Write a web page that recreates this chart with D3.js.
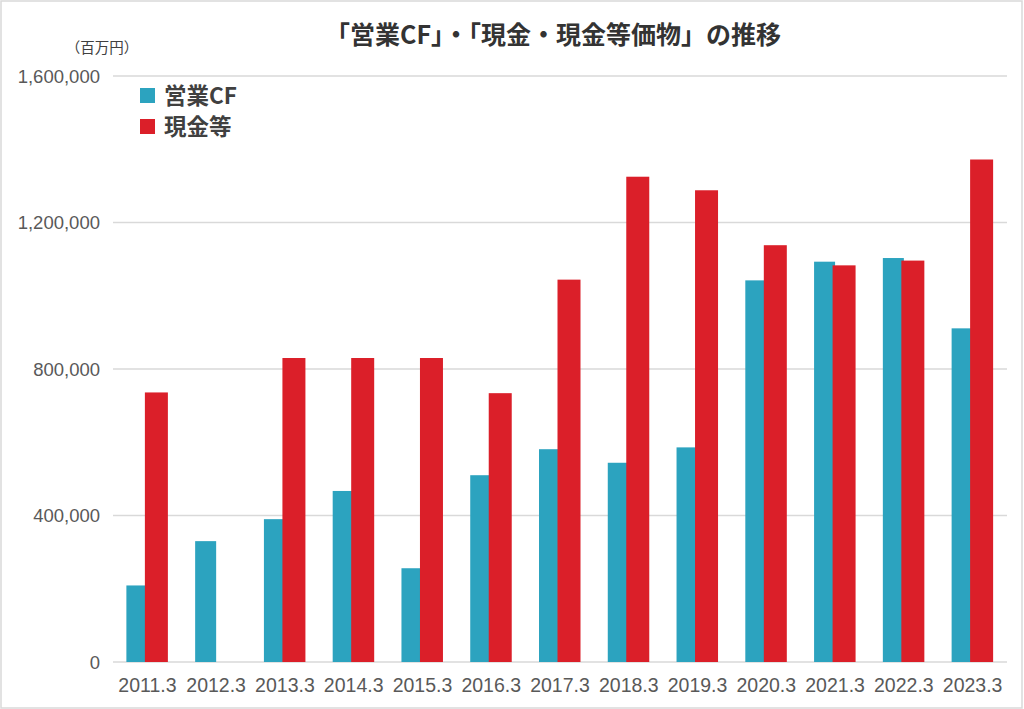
<!DOCTYPE html>
<html>
<head>
<meta charset="utf-8">
<script src="https://cdn.jsdelivr.net/npm/d3@7"></script>
<style>
  html, body { margin: 0; padding: 0; background: #fff; }
  svg { display: block; }
</style>
</head>
<body>
<script>
const categories = ["2011.3","2012.3","2013.3","2014.3","2015.3","2016.3","2017.3","2018.3","2019.3","2020.3","2021.3","2022.3","2023.3"];
const operatingCF = [209000, 330000, 390000, 467000, 256000, 510000, 581000, 544000, 586000, 1042000, 1093000, 1103000, 911000];
const cashEq = [736000, null, 830000, 830000, 830000, 734000, 1044000, 1325000, 1288000, 1138000, 1083000, 1096000, 1372000];
const yTicks = [0, 400000, 800000, 1200000, 1600000];
const seriesNames = ["営業CF", "現金等"];
const seriesColors = ["#2ca3bf", "#db1f29"];
const titleText = "「営業CF」・「現金・現金等価物」の推移";
const unitText = "（百万円）";

(function () {
const W = 1024, H = 709;
const svg = d3.select("body").append("svg").attr("width", W).attr("height", H);
const font = "'Noto Sans CJK JP', 'Liberation Sans', sans-serif";
const numFont = "'Liberation Sans', Arial, sans-serif";
const textColor = "#404040";

// border
svg.append("rect").attr("x", 1).attr("y", 1).attr("width", W - 3).attr("height", H - 2)
  .attr("fill", "#fff").attr("stroke", "#d9d9d9").attr("stroke-width", 1.5);

const mLeft = 113, mRight = 1007, mTop = 76, mBottom = 662;
const x = d3.scaleBand().domain(categories).range([mLeft, mRight]).padding(0);
const y = d3.scaleLinear().domain([0, 1600000]).range([mBottom, mTop]);

// grid
svg.append("g").selectAll("line").data(yTicks).join("line")
  .attr("x1", mLeft).attr("x2", mRight)
  .attr("y1", d => y(d)).attr("y2", d => y(d))
  .attr("stroke", "#d9d9d9").attr("stroke-width", 1.3);

// y axis labels
const yAxis = d3.axisLeft(y).tickValues(yTicks).tickFormat(d3.format(",")).tickSize(0).tickPadding(0);
const yg = svg.append("g").attr("transform", `translate(100,0)`).call(yAxis);
yg.select(".domain").remove();
yg.selectAll("text").attr("font-family", numFont).attr("font-size", 18.5).attr("fill", "#595959").attr("dy", "0.35em");

// x axis labels
const xAxis = d3.axisBottom(x).tickSize(0).tickPadding(0);
const xg = svg.append("g").attr("transform", `translate(0,${mBottom})`).call(xAxis);
xg.select(".domain").remove();
xg.selectAll("text").attr("font-family", numFont).attr("font-size", 19.5).attr("fill", "#595959").attr("dy", "0").attr("y", 30);

// bars
const bw = 21;
svg.append("g").selectAll("rect").data(categories.map((c, i) => ({c, v: operatingCF[i]})).filter(d => d.v != null)).join("rect")
  .attr("x", d => x(d.c) + x.bandwidth() / 2 - bw)
  .attr("width", bw)
  .attr("y", d => y(d.v))
  .attr("height", d => y(0) - y(d.v))
  .attr("fill", seriesColors[0]);
svg.append("g").selectAll("rect").data(categories.map((c, i) => ({c, v: cashEq[i]})).filter(d => d.v != null)).join("rect")
  .attr("x", d => x(d.c) + x.bandwidth() / 2 - 2.5)
  .attr("width", 23)
  .attr("y", d => y(d.v))
  .attr("height", d => y(0) - y(d.v))
  .attr("fill", seriesColors[1]);

// title
svg.append("text").attr("x", 553).attr("y", 44).attr("text-anchor", "middle")
  .attr("font-family", font).attr("font-weight", "bold").attr("font-size", 25)
  .attr("fill", "#333").text(titleText);

// unit
svg.append("text").attr("x", 102).attr("y", 53).attr("text-anchor", "middle")
  .attr("font-family", font).attr("font-size", 14.5).attr("fill", textColor).text(unitText);

// legend
const lg = svg.append("g");
seriesNames.forEach((n, i) => {
  const ly = 88 + i * 31;
  lg.append("rect").attr("x", 140).attr("y", ly).attr("width", 15).attr("height", 15).attr("fill", seriesColors[i]);
  lg.append("text").attr("x", 164).attr("y", ly + 16).attr("font-family", font).attr("font-weight", "bold")
    .attr("font-size", 22.5).attr("fill", textColor).text(n);
});
})();
</script>
</body>
</html>
